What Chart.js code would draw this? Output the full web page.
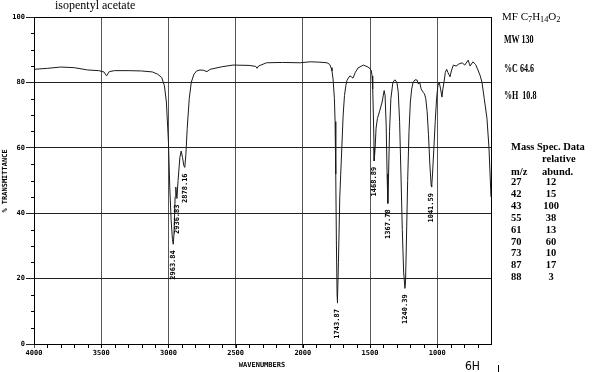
<!DOCTYPE html>
<html>
<head>
<meta charset="utf-8">
<script src="https://cdn.jsdelivr.net/npm/chart.js@4.4.1/dist/chart.umd.min.js"></script>
<style>
  body { margin: 0; background: #fff; }
  #wrap { position: relative; width: 600px; height: 372px; overflow: hidden; }
  #ir { position: absolute; left: 0; top: 0; }
  .txt { position: absolute; font-family: "Liberation Serif", "Times New Roman", serif; color: #000; white-space: nowrap; }
  .narrow { font-size: 11.5px; font-weight: bold; transform: scaleX(0.7); transform-origin: left center; }
  .ms { font-weight: bold; font-size: 10.5px; line-height: 12px; }
  sub { font-size: 75%; vertical-align: -2px; line-height: 0; }
</style>
</head>
<body>
<div id="wrap">
  <canvas id="ir" width="600" height="372"></canvas>
  <div class="txt" style="left:55px;top:-2px;font-size:12px;">isopentyl acetate</div>
  <div class="txt" style="left:502px;top:10px;font-size:11px;">MF C<sub>7</sub>H<sub>14</sub>O<sub>2</sub></div>
  <div class="txt narrow" style="left:504px;top:33px;">MW 130</div>
  <div class="txt narrow" style="left:504px;top:62px;">%C 64.6</div>
  <div class="txt narrow" style="left:504px;top:89px;">%H &nbsp;10.8</div>
  <div class="txt ms" style="left:511px;top:141px;">Mass Spec. Data</div>
  <div class="txt ms" style="left:542px;top:153px;">relative</div>
  <div class="txt ms" style="left:511px;top:166px;">m/z</div>
  <div class="txt ms" style="left:542px;top:166px;">abund.</div>
  <div id="mstable"></div>
</div>
<script>
// IR spectrum
var wavenumbers = [4000, 3900, 3800, 3700, 3600, 3520, 3480, 3460, 3440, 3400, 3300, 3200, 3120, 3080, 3050, 3030, 3015, 3000, 2990, 2980, 2970, 2963.84, 2958, 2950, 2945, 2936.83, 2928, 2915, 2905, 2895, 2885, 2878.16, 2870, 2860, 2845, 2830, 2810, 2790, 2765, 2740, 2713, 2690, 2600, 2520, 2400, 2350, 2340, 2330, 2270, 2150, 2020, 1945, 1880, 1820, 1800, 1790, 1783, 1775, 1765, 1760, 1755, 1750, 1745, 1743.87, 1740, 1735, 1725, 1710, 1700, 1690, 1680, 1671, 1650, 1635, 1627, 1610, 1590, 1550, 1515, 1500, 1490, 1485, 1480, 1475, 1470, 1468.89, 1462, 1455, 1445, 1430, 1410, 1395, 1388, 1380, 1373, 1367.78, 1363, 1355, 1345, 1330, 1315, 1300, 1290, 1280, 1270, 1260, 1250, 1240.39, 1236, 1230, 1220, 1210, 1200, 1190, 1180, 1165, 1150, 1140, 1130, 1120, 1105, 1095, 1085, 1075, 1065, 1055, 1045, 1041.59, 1035, 1025, 1015, 1005, 995, 985, 975, 965, 958, 950, 940, 930, 920, 905, 895, 880, 860, 840, 815, 795, 770, 755, 735, 715, 697, 680, 667, 650, 630, 615, 600];
var transmittance = [84.0, 84.3, 84.7, 84.5, 83.8, 83.6, 83.2, 82.0, 83.3, 83.6, 83.6, 83.5, 83.2, 82.5, 81.5, 79, 74, 62, 48, 38, 32, 30.5, 34, 45, 48, 44.5, 50, 57, 59, 57, 54.5, 54, 58, 66, 75, 80, 82.5, 83.5, 83.8, 83.7, 83.3, 84, 84.8, 85.3, 85.2, 84.9, 84.3, 85.0, 86, 86.1, 86, 86.3, 86.2, 86, 85.5, 84.5, 83.5, 81, 75, 68, 52, 30, 15, 12.5, 14, 25, 45, 60, 70, 76, 79, 80.7, 82, 81.6, 81.3, 83, 84.4, 85.3, 84.7, 84.2, 83.5, 82, 78, 70, 60, 56, 60, 66, 69, 71, 74, 77.5, 76, 67, 52, 43, 50, 65, 75, 80, 80.8, 80, 77, 68, 52, 35, 22, 17, 19, 30, 50, 65, 74, 78, 80, 80.8, 80.7, 79.5, 80, 78, 77, 76.5, 75, 71, 64, 55, 48.5, 48, 52, 60, 68, 75, 79, 80, 78, 75.5, 78, 80, 83, 84, 83, 81.7, 83.5, 85.3, 85, 85.6, 86, 85.3, 86.8, 85, 86.3, 85.5, 83.8, 82, 80, 75, 69, 60, 45];

var peakWavenumbers = [2963.84, 2936.83, 2878.16, 1743.87, 1468.89, 1367.78, 1240.39, 1041.59];
var peakDepths = [30.5, 44.5, 54, 12.5, 56, 43, 17, 48];
var peakLabels = ["2963.84", "2936.83", "2878.16", "1743.87", "1468.89", "1367.78", "1240.39", "1041.59"];

var xTicks = [4000, 3500, 3000, 2500, 2000, 1500, 1000];
var yTicks = [0, 20, 40, 60, 80, 100];

var msMz = [27, 42, 43, 55, 61, 70, 73, 87, 88];
var msAbund = [12, 15, 100, 38, 13, 60, 10, 17, 3];

var monoFont = "bold 7px 'DejaVu Sans Mono', monospace";

// mass spec table
var tbl = document.getElementById("mstable");
for (var i = 0; i < msMz.length; i++) {
    var a = document.createElement("div");
    a.className = "txt ms";
    a.style.left = "511px";
    a.style.top = (176 + i * 11.9) + "px";
    a.textContent = msMz[i];
    tbl.appendChild(a);
    var b = document.createElement("div");
    b.className = "txt ms";
    b.style.left = "536px";
    b.style.width = "30px";
    b.style.textAlign = "center";
    b.style.top = (176 + i * 11.9) + "px";
    b.textContent = msAbund[i];
    tbl.appendChild(b);
}

var points = wavenumbers.map((w, i) => ({ x: w, y: transmittance[i] }));

var extras = {
    id: "extras",
    afterDraw(chart) {
        var c = chart.ctx;
        var xs = chart.scales.x, ys = chart.scales.y;
        var a = chart.chartArea;
        c.save();
        c.strokeStyle = "#000";
        c.lineWidth = 1;
        c.strokeRect(a.left + 0.5, a.top + 0.5, a.right - a.left, a.bottom - a.top);
        // minor ticks
        c.beginPath();
        for (var v = 5; v < 100; v += 5) {
            if (v % 20 === 0) continue;
            var py = Math.round(ys.getPixelForValue(v)) + 0.5;
            c.moveTo(a.left - 3, py);
            c.lineTo(a.left, py);
        }
        for (var w = 700; w < 4000; w += 100) {
            var px = Math.round(xs.getPixelForValue(w)) + 0.5;
            c.moveTo(px, a.bottom);
            c.lineTo(px, a.bottom + 4);
        }
        c.stroke();
        // peak labels
        c.fillStyle = "#000";
        c.font = monoFont;
        c.textAlign = "right";
        c.textBaseline = "middle";
        for (var i = 0; i < peakLabels.length; i++) {
            var lx = xs.getPixelForValue(peakWavenumbers[i]);
            var ly = ys.getPixelForValue(peakDepths[i]);
            c.save();
            c.translate(lx, ly + 6);
            c.rotate(-Math.PI / 2);
            c.fillText(peakLabels[i], 0, 0);
            c.restore();
        }
        // axis titles
        c.textAlign = "center";
        c.fillText("WAVENUMBERS", 262, 365);
        c.save();
        c.translate(5, 181);
        c.rotate(-Math.PI / 2);
        c.fillText("% TRANSMITTANCE", 0, 0);
        c.restore();
        c.font = "12px 'DejaVu Sans Condensed', 'DejaVu Sans', sans-serif";
        c.textAlign = "left";
        c.fillText("6H", 465, 367);
        c.fillRect(498, 365, 1, 7);
        c.restore();
    }
};

var chart = new Chart(document.getElementById("ir"), {
    type: "line",
    data: {
        datasets: [{
            label: "isopentyl acetate",
            data: points,
            borderColor: "#1a1a1a",
            borderWidth: 1,
            pointRadius: 0,
            tension: 0,
            fill: false
        }]
    },
    options: {
        responsive: false,
        animation: false,
        devicePixelRatio: 1,
        layout: { padding: { left: 0, top: 17, right: 109, bottom: 0 } },
        plugins: { legend: { display: false }, tooltip: { enabled: false } },
        scales: {
            x: {
                type: "linear",
                reverse: true,
                min: 600,
                max: 4000,
                afterBuildTicks: (s) => { s.ticks = xTicks.map((v) => ({ value: v })); },
                afterFit: (s) => { s.height = 28; },
                ticks: {
                    autoSkip: false, maxRotation: 0, padding: 1, color: "#000",
                    font: { family: "DejaVu Sans Mono", size: 7, weight: "bold" },
                    callback: (v) => String(v)
                },
                grid: { color: "#555", tickLength: 4, lineWidth: 1 },
                border: { color: "#000" }
            },
            y: {
                min: 0,
                max: 100,
                afterBuildTicks: (s) => { s.ticks = yTicks.map((v) => ({ value: v })); },
                afterFit: (s) => { s.width = 34; },
                ticks: {
                    padding: 1, color: "#000",
                    font: { family: "DejaVu Sans Mono", size: 7, weight: "bold" },
                    callback: (v) => String(v)
                },
                grid: { color: "#222", tickLength: 8, lineWidth: 1 },
                border: { color: "#000" }
            }
        }
    },
    plugins: [extras]
});
</script>
</body>
</html>
